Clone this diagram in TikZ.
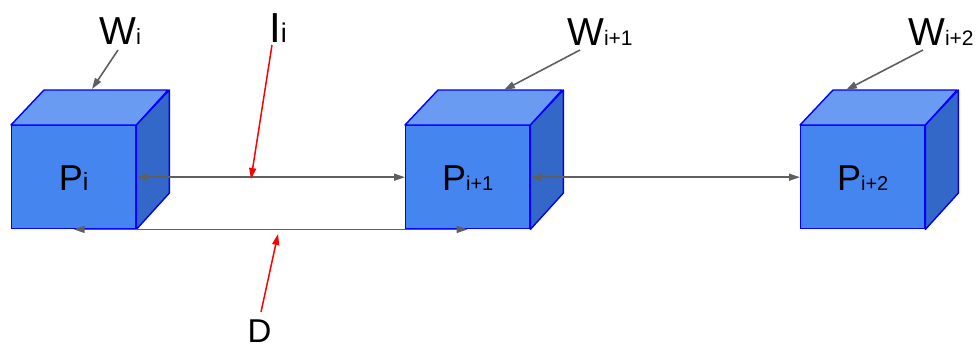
\documentclass[tikz,border=0pt]{standalone}
\usepackage{fontspec}
\setmainfont{Liberation Sans}
\usetikzlibrary{arrows.meta}
\definecolor{frontblue}{HTML}{4485F0}
\definecolor{topblue}{HTML}{6A9BF2}
\definecolor{sideblue}{HTML}{3468C8}
\definecolor{edgeblue}{HTML}{0000FF}
\definecolor{arrgray}{HTML}{5F5F5F}
\definecolor{arrred}{HTML}{FF0000}
\newcommand{\fs}[1]{\fontsize{#1}{#1}\selectfont}
\tikzset{
  front/.style={draw=edgeblue, line width=1.4pt, fill=frontblue, minimum width=124pt, minimum height=103pt, inner sep=0pt},
  topface/.style={draw=edgeblue, line width=1.4pt, fill=topblue, line join=round},
  sideface/.style={draw=edgeblue, line width=1.4pt, fill=sideblue, line join=round},
  garrow/.style={draw=arrgray, line width=1.6pt, -{Triangle[length=11pt,width=7pt]}},
  gboth/.style={draw=arrgray, line width=1.6pt, {Triangle[length=11pt,width=7pt]}-{Triangle[length=11pt,width=7pt]}},
  rarrow/.style={draw=arrred, line width=1.5pt, -{Triangle[length=11pt,width=7pt]}},
  lbl/.style={inner sep=0pt, anchor=base west, text=black},
  plbl/.style={inner sep=0pt, anchor=base, text=black}
}
\begin{document}
\begin{tikzpicture}[x=1pt,y=-1pt]
\useasboundingbox (0,0) rectangle (980,352);
% cubes
\foreach \n/\x in {p1/11, p2/405, p3/800} {
  \node[front, anchor=north west] (\n) at (\x,125) {};
  \path[topface] (\n.north west) -- ++(33,-35) -- ++(124,0) -- (\n.north east) -- cycle;
  \path[sideface] (\n.north east) -- ++(33,-35) -- ++(0,103) -- (\n.south east) -- cycle;
}
% cube labels
\node[plbl] (t1) at ([yshift=-13pt]p1.center) {\fs{36}P\fs{25}i};
\node[plbl] (t2) at ([yshift=-13pt]p2.center) {\fs{36}P\fs{20}i+1};
\node[plbl] (t3) at ([yshift=-13pt]p3.center) {\fs{36}P\fs{20}i+2};
% top labels
\node[lbl] (w1) at (99,45) {\fs{39}W\fs{22}i};
\node[lbl] (w2) at (567,46) {\fs{39}W\fs{21}i+1};
\node[lbl] (w3) at (908,46) {\fs{39}W\fs{21}i+2};
\node[lbl] (ii) at (269,43) {\fs{42}I\fs{27}i};
\node[lbl] (dd) at (247.5,343) {\fs{33}D};
% arrow anchor coordinates
\coordinate (w1s) at (118,50);
\coordinate (w1e) at (92,89);
\coordinate (w2s) at (580,50);
\coordinate (w2e) at (504,90);
\coordinate (w3s) at (923,50);
\coordinate (w3e) at (846,90);
\coordinate (is) at (272,45);
\coordinate (ie) at (251,179);
\coordinate (ds) at (261,312);
\coordinate (de) at (278,234);
% connectors
\draw[garrow] (w1s) -- (w1e);
\draw[garrow] (w2s) -- (w2e);
\draw[garrow] (w3s) -- (w3e);
\draw[gboth] (p1.east) -- (p2.west);
\draw[gboth] (p2.east) -- (p3.west);
\draw[gboth] (p1.south) -- (p2.south);
\draw[rarrow] (is) -- (ie);
\draw[rarrow] (ds) -- (de);
\end{tikzpicture}
\end{document}
